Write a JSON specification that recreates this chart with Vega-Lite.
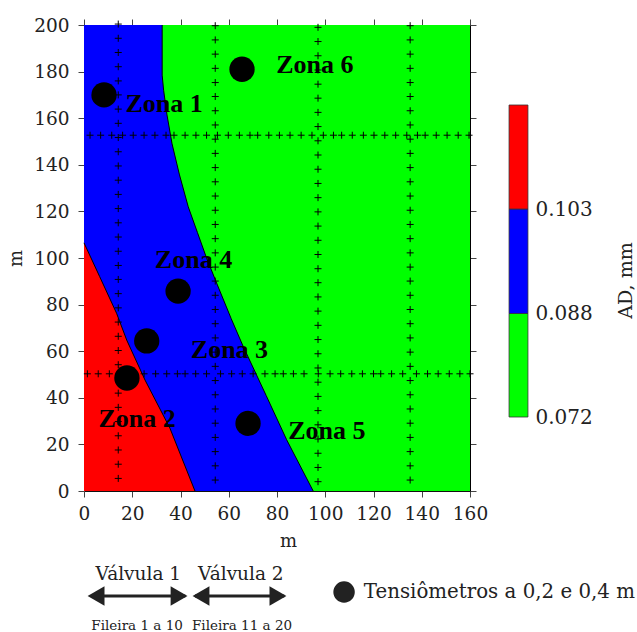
{
"$schema":"https://vega.github.io/schema/vega-lite/v6.json",
"padding":{"left":7,"top":16,"right":0,"bottom":0},
"background":"white",
"bounds":"flush",
"columns":2,
"spacing":{"row":71,"column":38},
"config":{"view":{"stroke":null},"font":"DejaVu Serif","text":{"font":"DejaVu Serif"},"axis":{"labelFont":"DejaVu Serif","titleFont":"DejaVu Serif","titleFontWeight":"normal","labelFontSize":18.5,"titleFontSize":18,"labelColor":"#222","titleColor":"#222","grid":false,"tickSize":6,"tickColor":"#444","domainColor":"#111","zindex":1}},
"datasets":{
"zonas":[
{"zona":"verde","x":160,"y":0},{"zona":"verde","x":160,"y":200},
{"zona":"azul","x":95,"y":0},{"zona":"azul","x":84,"y":22},{"zona":"azul","x":75.5,"y":41},{"zona":"azul","x":66,"y":62},{"zona":"azul","x":61,"y":74},{"zona":"azul","x":55.3,"y":88.4},{"zona":"azul","x":50.8,"y":100},{"zona":"azul","x":47,"y":111},{"zona":"azul","x":43.2,"y":122},{"zona":"azul","x":39.5,"y":136},{"zona":"azul","x":36.5,"y":149},{"zona":"azul","x":34.4,"y":161.4},{"zona":"azul","x":33,"y":172},{"zona":"azul","x":32.4,"y":178.5},{"zona":"azul","x":32.4,"y":200},
{"zona":"vermelho","x":46,"y":0},{"zona":"vermelho","x":35.6,"y":27},{"zona":"vermelho","x":25.3,"y":47.6},{"zona":"vermelho","x":17.7,"y":64.8},{"zona":"vermelho","x":13.5,"y":76.3},{"zona":"vermelho","x":6.5,"y":92},{"zona":"vermelho","x":0,"y":106.5}
],
"tensiometros":[{"x":65.5,"y":181},{"x":8.3,"y":170},{"x":39,"y":85.8},{"x":26,"y":64.4},{"x":17.8,"y":48.5},{"x":68,"y":29}],
"rotulos":[{"t":"Zona 6","x":95.7,"y":183},{"t":"Zona 1","x":33.2,"y":166},{"t":"Zona 4","x":45.4,"y":99},{"t":"Zona 3","x":60.3,"y":60.5},{"t":"Zona 2","x":22,"y":31},{"t":"Zona 5","x":100.7,"y":25.7}],
"emissores":[
{"x":14.2,"y":200.4},{"x":14.2,"y":194.3},{"x":14.2,"y":188.2},{"x":14.2,"y":182.1},{"x":14.2,"y":176},{"x":14.2,"y":170},{"x":14.2,"y":163.9},{"x":14.2,"y":157.8},{"x":14.2,"y":151.7},{"x":14.2,"y":145.6},{"x":14.2,"y":139.5},{"x":14.2,"y":133.4},{"x":14.2,"y":127.3},{"x":14.2,"y":121.2},{"x":14.2,"y":115.1},{"x":14.2,"y":109},{"x":14.2,"y":102.9},{"x":14.2,"y":96.8},{"x":14.2,"y":90.8},{"x":14.2,"y":84.7},{"x":14.2,"y":78.6},{"x":14.2,"y":72.5},{"x":14.2,"y":66.4},{"x":14.2,"y":60.3},{"x":14.2,"y":54.2},{"x":14.2,"y":48.1},{"x":14.2,"y":42},{"x":14.2,"y":35.9},{"x":14.2,"y":29.8},{"x":14.2,"y":23.7},{"x":14.2,"y":17.6},{"x":14.2,"y":11.5},{"x":14.2,"y":5.4},
{"x":54.4,"y":199.7},{"x":54.4,"y":193.6},{"x":54.4,"y":187.5},{"x":54.4,"y":181.4},{"x":54.4,"y":175.3},{"x":54.4,"y":169.3},{"x":54.4,"y":163.2},{"x":54.4,"y":157.1},{"x":54.4,"y":151},{"x":54.4,"y":144.9},{"x":54.4,"y":138.8},{"x":54.4,"y":132.7},{"x":54.4,"y":126.6},{"x":54.4,"y":120.5},{"x":54.4,"y":114.4},{"x":54.4,"y":108.3},{"x":54.4,"y":102.2},{"x":54.4,"y":96.1},{"x":54.4,"y":90.1},{"x":54.4,"y":84},{"x":54.4,"y":77.9},{"x":54.4,"y":71.8},{"x":54.4,"y":65.7},{"x":54.4,"y":59.6},{"x":54.4,"y":53.5},{"x":54.4,"y":47.4},{"x":54.4,"y":41.3},{"x":54.4,"y":35.2},{"x":54.4,"y":29.1},{"x":54.4,"y":23},{"x":54.4,"y":16.9},{"x":54.4,"y":10.8},{"x":54.4,"y":4.7},
{"x":97,"y":199},{"x":97,"y":192.9},{"x":97,"y":186.8},{"x":97,"y":180.7},{"x":97,"y":174.6},{"x":97,"y":168.6},{"x":97,"y":162.5},{"x":97,"y":156.4},{"x":97,"y":150.3},{"x":97,"y":144.2},{"x":97,"y":138.1},{"x":97,"y":132},{"x":97,"y":125.9},{"x":97,"y":119.8},{"x":97,"y":113.7},{"x":97,"y":107.6},{"x":97,"y":101.5},{"x":97,"y":95.4},{"x":97,"y":89.4},{"x":97,"y":83.3},{"x":97,"y":77.2},{"x":97,"y":71.1},{"x":97,"y":65},{"x":97,"y":58.9},{"x":97,"y":52.8},{"x":97,"y":46.7},{"x":97,"y":40.6},{"x":97,"y":34.5},{"x":97,"y":28.4},{"x":97,"y":22.3},{"x":97,"y":16.2},{"x":97,"y":10.1},{"x":97,"y":4},
{"x":135.2,"y":199.7},{"x":135.2,"y":193.6},{"x":135.2,"y":187.5},{"x":135.2,"y":181.4},{"x":135.2,"y":175.3},{"x":135.2,"y":169.3},{"x":135.2,"y":163.2},{"x":135.2,"y":157.1},{"x":135.2,"y":151},{"x":135.2,"y":144.9},{"x":135.2,"y":138.8},{"x":135.2,"y":132.7},{"x":135.2,"y":126.6},{"x":135.2,"y":120.5},{"x":135.2,"y":114.4},{"x":135.2,"y":108.3},{"x":135.2,"y":102.2},{"x":135.2,"y":96.1},{"x":135.2,"y":90.1},{"x":135.2,"y":84},{"x":135.2,"y":77.9},{"x":135.2,"y":71.8},{"x":135.2,"y":65.7},{"x":135.2,"y":59.6},{"x":135.2,"y":53.5},{"x":135.2,"y":47.4},{"x":135.2,"y":41.3},{"x":135.2,"y":35.2},{"x":135.2,"y":29.1},{"x":135.2,"y":23},{"x":135.2,"y":16.9},{"x":135.2,"y":10.8},{"x":135.2,"y":4.7},
{"x":2.5,"y":152.7},{"x":6.9,"y":152.7},{"x":11.5,"y":152.7},{"x":16,"y":152.7},{"x":20.4,"y":152.7},{"x":24.9,"y":152.7},{"x":29.4,"y":152.7},{"x":34,"y":152.7},{"x":37.3,"y":152.7},{"x":41.9,"y":152.7},{"x":46.4,"y":152.7},{"x":50.8,"y":152.7},{"x":55.3,"y":152.7},{"x":59.8,"y":152.7},{"x":64.4,"y":152.7},{"x":68.8,"y":152.7},{"x":72,"y":152.7},{"x":76.6,"y":152.7},{"x":81,"y":152.7},{"x":85.4,"y":152.7},{"x":90,"y":152.7},{"x":94.5,"y":152.7},{"x":99.2,"y":152.7},{"x":103.4,"y":152.7},{"x":106.8,"y":152.7},{"x":111.2,"y":152.7},{"x":115.8,"y":152.7},{"x":120.2,"y":152.7},{"x":124.7,"y":152.7},{"x":129.2,"y":152.7},{"x":133.8,"y":152.7},{"x":138.2,"y":152.7},{"x":141.4,"y":152.7},{"x":146,"y":152.7},{"x":150.5,"y":152.7},{"x":155.1,"y":152.7},{"x":159.6,"y":152.7},
{"x":1.4,"y":50.3},{"x":5.9,"y":50.3},{"x":10.5,"y":50.3},{"x":15,"y":50.3},{"x":24.9,"y":50.3},{"x":29.7,"y":50.3},{"x":34.3,"y":50.3},{"x":38.7,"y":50.3},{"x":41.9,"y":50.3},{"x":46.3,"y":50.3},{"x":50.8,"y":50.3},{"x":56.6,"y":50.3},{"x":61.2,"y":50.3},{"x":65.6,"y":50.3},{"x":70.1,"y":50.3},{"x":75,"y":50.3},{"x":79.2,"y":50.3},{"x":82.6,"y":50.3},{"x":86.8,"y":50.3},{"x":91.2,"y":50.3},{"x":97.1,"y":50.3},{"x":102,"y":50.3},{"x":106.4,"y":50.3},{"x":111,"y":50.3},{"x":115.4,"y":50.3},{"x":120,"y":50.3},{"x":123,"y":50.3},{"x":127.5,"y":50.3},{"x":132.1,"y":50.3},{"x":137.8,"y":50.3},{"x":142.4,"y":50.3},{"x":146.8,"y":50.3},{"x":151.4,"y":50.3},{"x":155.8,"y":50.3},{"x":160,"y":50.3}
]
},
"concat":[
{"width":386,"height":466,
"resolve":{"axis":{"x":"independent","y":"independent"}},
"layer":[
{"data":{"name":"zonas"},"mark":{"type":"area","orient":"horizontal"},
"encoding":{
"x":{"field":"x","type":"quantitative","stack":null,"scale":{"domain":[0,160]},"axis":{"values":[0,20,40,60,80,100,120,140,160],"title":"m","titleX":204,"titlePadding":10,"labelPadding":7,"labelFlush":false,"domainColor":"#111"}},
"y":{"field":"y","type":"quantitative","scale":{"domain":[0,200]},"axis":{"values":[0,20,40,60,80,100,120,140,160,180,200],"title":"m","titlePadding":8,"labelPadding":9,"domainColor":"#555"}},
"color":{"field":"zona","type":"nominal","legend":null,"scale":{"domain":["verde","azul","vermelho"],"range":["#00ff00","#0000ff","#ff0000"]}}}},
{"data":{"name":"zonas"},"transform":[{"filter":"datum.zona !== 'verde'"}],"mark":{"type":"line","color":"#000","strokeWidth":1},
"encoding":{"x":{"field":"x","type":"quantitative","axis":{"orient":"top","values":[0,20,40,60,80,100,120,140,160],"labels":false,"title":null,"domainColor":"#999","tickSize":6}},"y":{"field":"y","type":"quantitative","axis":{"orient":"right","values":[0,20,40,60,80,100,120,140,160,180,200],"labels":false,"title":null,"domainColor":"#000","tickSize":6}},"detail":{"field":"zona"},"order":{"field":"y"}}},
{"data":{"name":"emissores"},"mark":{"type":"point","shape":"M-1,0L1,0M0,-1L0,1","size":49,"stroke":"#000","strokeWidth":1,"filled":false,"opacity":1},
"encoding":{"x":{"field":"x","type":"quantitative","axis":null},"y":{"field":"y","type":"quantitative","axis":null}}},
{"data":{"name":"tensiometros"},"mark":{"type":"circle","size":640,"color":"#000","opacity":1},
"encoding":{"x":{"field":"x","type":"quantitative","axis":null},"y":{"field":"y","type":"quantitative","axis":null}}},
{"data":{"name":"rotulos"},"mark":{"type":"text","font":"Liberation Serif","fontWeight":"bold","fontSize":26,"color":"#000","align":"center","baseline":"middle"},
"encoding":{"x":{"field":"x","type":"quantitative","axis":null},"y":{"field":"y","type":"quantitative","axis":null},"text":{"field":"t"}}}
]},
{"width":21,"height":466,
"data":{"values":[{"faixa":"verde","inf":0.072,"sup":0.088},{"faixa":"azul","inf":0.088,"sup":0.103},{"faixa":"vermelho","inf":0.103,"sup":0.118}]},
"mark":{"type":"bar","stroke":"#333","strokeWidth":0.8},
"encoding":{
"y":{"field":"inf","type":"quantitative","scale":{"domain":[0.072,0.088,0.103,0.118],"range":[392,288.5,184,80]},
"axis":{"orient":"right","values":[0.072,0.088,0.103],"format":".3f","domain":false,"ticks":false,"title":"AD, mm","titleFontSize":19,"titleAngle":-90,"titleX":96,"titleY":255,"titleAlign":"center","titleBaseline":"middle","labelPadding":6,"labelFontSize":20}},
"y2":{"field":"sup"},
"color":{"field":"faixa","type":"nominal","legend":null,"scale":{"domain":["verde","azul","vermelho"],"range":["#00ff00","#0000ff","#ff0000"]}}}},
{"width":386,"height":70,
"encoding":{"x":{"type":"quantitative","scale":{"domain":[0,160]},"axis":null},"y":{"type":"quantitative","scale":{"domain":[0,70]},"axis":null}},
"layer":[
{"data":{"values":[{"valvula":"Válvula 1","ini":3,"fim":42,"nivel":36},{"valvula":"Válvula 2","ini":46,"fim":83,"nivel":36}]},
"mark":{"type":"rule","color":"#222","strokeWidth":3},
"encoding":{"x":{"field":"ini","type":"quantitative"},"x2":{"field":"fim"},"y":{"field":"nivel","type":"quantitative"}}},
{"data":{"values":[{"x":5,"nivel":36},{"x":48.5,"nivel":36}]},
"mark":{"type":"point","shape":"triangle-left","filled":true,"color":"#222","size":380,"opacity":1},
"encoding":{"x":{"field":"x","type":"quantitative"},"y":{"field":"nivel","type":"quantitative"}}},
{"data":{"values":[{"x":39.4,"nivel":36},{"x":80.4,"nivel":36}]},
"mark":{"type":"point","shape":"triangle-right","filled":true,"color":"#222","size":380,"opacity":1},
"encoding":{"x":{"field":"x","type":"quantitative"},"y":{"field":"nivel","type":"quantitative"}}},
{"data":{"values":[{"t":"Válvula 1","x":22.5,"y":58},{"t":"Válvula 2","x":65,"y":58}]},
"mark":{"type":"text","fontSize":18.5,"color":"#222","font":"DejaVu Serif"},
"encoding":{"x":{"field":"x","type":"quantitative"},"y":{"field":"y","type":"quantitative"},"text":{"field":"t"}}},
{"data":{"values":[{"t":"Fileira 1 a 10","x":22,"y":6},{"t":"Fileira 11 a 20","x":65.5,"y":6}]},
"mark":{"type":"text","fontSize":13.5,"color":"#222","font":"DejaVu Serif"},
"encoding":{"x":{"field":"x","type":"quantitative"},"y":{"field":"y","type":"quantitative"},"text":{"field":"t"}}},
{"data":{"values":[{"x":107.8,"y":40}]},
"mark":{"type":"circle","size":460,"color":"#222","opacity":1},
"encoding":{"x":{"field":"x","type":"quantitative"},"y":{"field":"y","type":"quantitative"}}},
{"data":{"values":[{"t":"Tensiômetros a 0,2 e 0,4 m","x":116,"y":40}]},
"mark":{"type":"text","fontSize":19.8,"color":"#222","font":"DejaVu Serif","align":"left"},
"encoding":{"x":{"field":"x","type":"quantitative"},"y":{"field":"y","type":"quantitative"},"text":{"field":"t"}}}
]}
]
}
